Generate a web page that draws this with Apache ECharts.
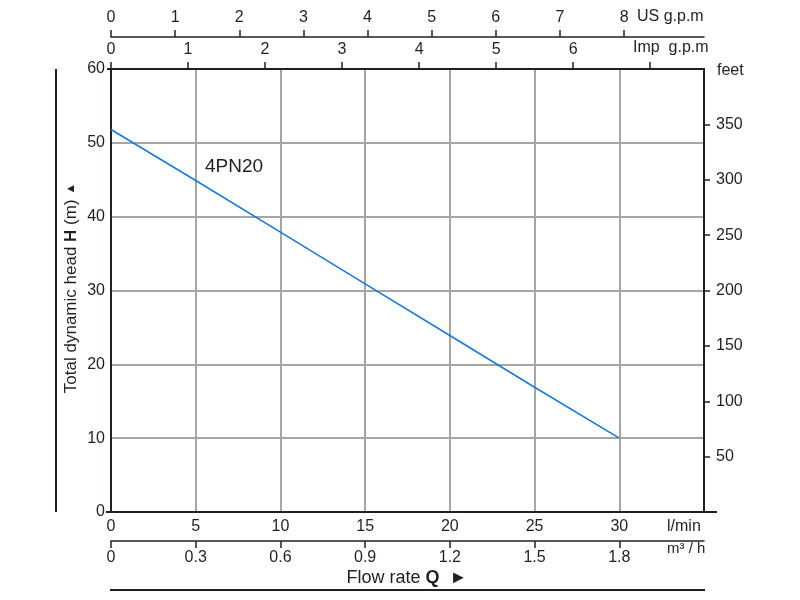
<!DOCTYPE html>
<html><head><meta charset="utf-8">
<script src="https://cdn.jsdelivr.net/npm/echarts@6/dist/echarts.min.js"></script>
<style>html,body{margin:0;padding:0;background:#fff}#c{width:800px;height:600px}</style>
</head><body><div id="c"></div>
<script>
// Data
const flowLpm = [0, 5, 10, 15, 20, 25, 30];
const headM = [51.8, 44.9, 37.9, 30.9, 23.9, 16.9, 10.0];
const seriesName = '4PN20';
const m3hTicks = [0, 0.3, 0.6, 0.9, 1.2, 1.5, 1.8];
const usTicks = [0, 1, 2, 3, 4, 5, 6, 7, 8];
const impTicks = [0, 1, 2, 3, 4, 5, 6, 7];
const impLabels = [0, 1, 2, 3, 4, 5, 6];
const feetTicks = [50, 100, 150, 200, 250, 300, 350];

const LPM_MAX = 35;
const FONT = 'Liberation Sans';
const TXT = '#231f20';
const chart = echarts.init(document.getElementById('c'), null, {renderer: 'canvas'});
const lbl = (m, extra) => Object.assign({color: TXT, fontSize: 16, fontFamily: FONT, margin: m}, extra || {});
const axLine = (w) => ({show: true, onZero: false, lineStyle: {color: '#231f20', width: w}});
const tick = (vals) => ({show: true, inside: false, length: 7, customValues: vals, lineStyle: {color: '#231f20', width: 1.5}});

chart.setOption({
  animation: false,
  backgroundColor: '#fff',
  grid: {left: 111, right: 96, top: 69, bottom: 88, containLabel: false},
  xAxis: [
    { // l/min bottom
      type: 'value', min: 0, max: LPM_MAX, interval: 5, position: 'bottom',
      axisLine: axLine(2), axisTick: {show: false},
      axisLabel: lbl(7, {showMaxLabel: false}),
      splitLine: {show: true, lineStyle: {color: '#a6a6a6', width: 2}}
    },
    { // m3/h bottom
      type: 'value', min: 0, max: LPM_MAX * 0.06, position: 'bottom', offset: 29,
      axisLine: axLine(1.5),
      axisTick: tick(m3hTicks),
      axisLabel: lbl(9, {customValues: m3hTicks, formatter: v => v === 0 ? '0' : v.toFixed(1)}),
      splitLine: {show: false}
    },
    { // Imp gpm top
      type: 'value', min: 0, max: LPM_MAX / 4.54609, position: 'top',
      axisLine: axLine(2),
      axisTick: tick(impTicks),
      axisLabel: lbl(11, {customValues: impLabels}),
      splitLine: {show: false}
    },
    { // US gpm top
      type: 'value', min: 0, max: LPM_MAX / 3.785411784, position: 'top', offset: 32,
      axisLine: axLine(1.5),
      axisTick: tick(usTicks),
      axisLabel: lbl(11, {customValues: usTicks}),
      splitLine: {show: false}
    }
  ],
  yAxis: [
    {
      type: 'value', min: 0, max: 60, interval: 10, position: 'left',
      axisLine: axLine(2), axisTick: {show: false},
      axisLabel: lbl(6),
      splitLine: {show: true, lineStyle: {color: '#a6a6a6', width: 2}}
    },
    {
      type: 'value', min: 0, max: 400, position: 'right',
      axisLine: axLine(2),
      axisTick: Object.assign(tick(feetTicks), {length: 6}),
      axisLabel: lbl(12, {customValues: feetTicks}),
      splitLine: {show: false}
    }
  ],
  series: [{
    name: seriesName, type: 'line', xAxisIndex: 0, yAxisIndex: 0,
    data: flowLpm.map((x, i) => [x, headM[i]]),
    symbol: 'none', lineStyle: {color: '#1a7ad4', width: 1.6}
  }],
  graphic: [
    {type: 'line', shape: {x1: 56, y1: 69, x2: 56, y2: 512}, style: {stroke: '#231f20', lineWidth: 2}},
    {type: 'line', shape: {x1: 110, y1: 590, x2: 705, y2: 590}, style: {stroke: '#231f20', lineWidth: 2}},
    {type: 'line', shape: {x1: 106, y1: 512, x2: 112, y2: 512}, style: {stroke: '#231f20', lineWidth: 2}},
    {type: 'line', shape: {x1: 703, y1: 512, x2: 717, y2: 512}, style: {stroke: '#231f20', lineWidth: 2}},
    {type: 'line', shape: {x1: 107, y1: 69, x2: 112, y2: 69}, style: {stroke: '#231f20', lineWidth: 2}},
    {type: 'text', x: 637, y: 17, style: {text: 'US g.p.m', fill: TXT, font: '16px ' + FONT, verticalAlign: 'middle'}},
    {type: 'text', x: 633, y: 48, style: {text: 'Imp  g.p.m', fill: TXT, font: '16px ' + FONT, verticalAlign: 'middle'}},
    {type: 'text', x: 717, y: 71, style: {text: 'feet', fill: TXT, font: '16px ' + FONT, verticalAlign: 'middle'}},
    {type: 'text', x: 667, y: 527, style: {text: 'l/min', fill: TXT, font: '16px ' + FONT, verticalAlign: 'middle'}},
    {type: 'text', x: 667, y: 549, style: {text: 'm\u00b3 / h', fill: TXT, font: '15px ' + FONT, verticalAlign: 'middle'}},
    {type: 'text', x: 205, y: 167, style: {text: seriesName, fill: TXT, font: '19px ' + FONT, verticalAlign: 'middle'}},
    {type: 'text', x: 407, y: 578, style: {
      text: '{a|Flow rate }{b|Q}{a|  \u25ba}', align: 'center', verticalAlign: 'middle',
      rich: {a: {fontSize: 18, fontFamily: FONT, fill: TXT}, b: {fontSize: 18, fontFamily: FONT, fontWeight: 'bold', fill: TXT}}
    }},
    {type: 'text', x: 71, y: 288, rotation: Math.PI / 2, style: {
      text: '{a|Total dynamic head }{b|H}{a| (m) }{c|\u25b2}', align: 'center', verticalAlign: 'middle',
      rich: {a: {fontSize: 17, fontFamily: FONT, fill: TXT}, b: {fontSize: 17, fontFamily: FONT, fontWeight: 'bold', fill: TXT}, c: {fontSize: 12, fontFamily: FONT, fill: TXT}}
    }}
  ]
});
</script></body></html>
